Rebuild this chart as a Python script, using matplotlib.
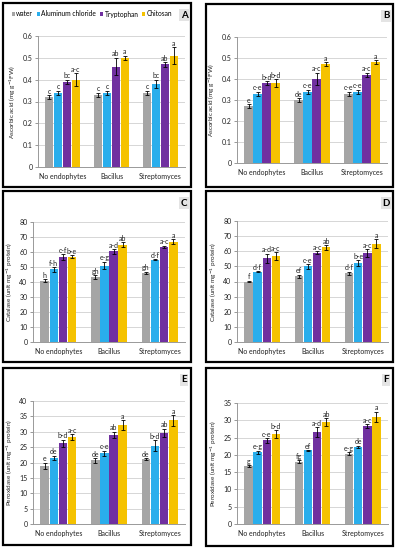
import matplotlib
matplotlib.use("Agg")
import matplotlib.pyplot as plt
from matplotlib.patches import Rectangle
import numpy as np

plt.rcParams['font.family'] = ['Lato', 'DejaVu Sans']

categories = ["No endophytes", "Bacillus", "Streptomyces"]
series = ["water", "Aluminum chloride", "Tryptophan", "Chitosan"]
colors = ["#A5A5A5", "#2AAEEC", "#7030A0", "#F5C200"]

# Panel A: ascorbic acid
A_vals = [[0.32, 0.33, 0.34], [0.34, 0.34, 0.38], [0.39, 0.46, 0.47], [0.40, 0.50, 0.51]]
A_err = [[0.008, 0.01, 0.01], [0.01, 0.01, 0.02], [0.01, 0.04, 0.01], [0.03, 0.01, 0.04]]
A_lab = [["c", "c", "c"], ["c", "c", "bc"], ["bc", "ab", "ab"], ["a-c", "a", "a"]]
# Panel B
B_vals = [[0.27, 0.30, 0.33], [0.33, 0.34, 0.34], [0.38, 0.40, 0.42], [0.38, 0.47, 0.48]]
B_err = [[0.01, 0.01, 0.01], [0.01, 0.01, 0.01], [0.01, 0.03, 0.01], [0.02, 0.01, 0.01]]
B_lab = [["e", "de", "c-e"], ["c-e", "c-e", "c-e"], ["b-d", "a-c", "a-c"], ["b-d", "a", "a"]]
# Panel C: catalase
C_vals = [[41, 43.5, 46], [48.5, 51, 55], [56.5, 60.5, 63.5], [57, 65, 67]]
C_err = [[1, 1.2, 0.8], [1.5, 2.5, 0.4], [2, 1.5, 0.8], [1, 1.5, 1.5]]
C_lab = [["h", "gh", "gh"], ["f-h", "e-g", "d-f"], ["c-f", "a-d", "a-c"], ["b-e", "ab", "a"]]
# Panel D
D_vals = [[40, 43.5, 45.5], [46.5, 50, 52], [55.5, 59, 59], [57, 62.5, 65]]
D_err = [[0.5, 1, 1], [0.5, 1.5, 2], [3, 1, 2.5], [2.5, 1.5, 3]]
D_lab = [["f", "ef", "d-f"], ["d-f", "c-e", "b-e"], ["a-d", "a-c", "a-c"], ["a-c", "ab", "a"]]
# Panel E: peroxidase
E_vals = [[19, 20.7, 21.2], [21.5, 23, 25.5], [26.2, 29, 29.7], [28.2, 32.2, 33.7]]
E_err = [[1, 0.7, 0.3], [0.7, 0.8, 1.7], [1.2, 1, 1.3], [1, 1.5, 1.7]]
E_lab = [["e", "de", "de"], ["de", "c-e", "b-d"], ["b-d", "ab", "ab"], ["a-c", "a", "a"]]
# Panel F
F_vals = [[16.8, 18, 20.3], [20.7, 21.3, 22.3], [24.2, 26.6, 28.3], [26, 29.5, 31]]
F_err = [[0.2, 0.4, 0.4], [0.5, 0.1, 0.4], [0.7, 1.4, 0.6], [1.2, 1.2, 1.5]]
F_lab = [["g", "fg", "e-g"], ["e-g", "ef", "de"], ["c-e", "a-d", "a-c"], ["b-d", "ab", "a"]]

asc_ticks = [0, 0.1, 0.2, 0.3, 0.4, 0.5, 0.6]
asc_ticklabels = ["0", "0.1", "0.2", "0.3", "0.4", "0.5", "0.6"]
cat_ticks = [0, 10, 20, 30, 40, 50, 60, 70, 80]
perE_ticks = [0, 5, 10, 15, 20, 25, 30, 35, 40]
perF_ticks = [0, 5, 10, 15, 20, 25, 30, 35]

asc_label = "Ascorbic acid (mg g$^{-1}$FW)"
cat_label = "Catalase (unit mg$^{-1}$ protein)"
per_label = "Peroxidase (unit mg$^{-1}$ protein)"

W, H = 399, 550
fig = plt.figure(figsize=(W / 100, H / 100), dpi=100)

def fx(x): return x / W
def fy(y): return 1 - y / H

panels = [
    ("A", A_vals, A_err, A_lab, asc_ticks, asc_ticklabels, asc_label, (38, 185, 36, 167), (3, 191, 3, 187)),
    ("B", B_vals, B_err, B_lab, asc_ticks, asc_ticklabels, asc_label, (237, 387, 37, 163), (206, 393, 4, 187)),
    ("C", C_vals, C_err, C_lab, cat_ticks, [str(t) for t in cat_ticks], cat_label, (33, 185, 222, 342), (3, 191, 191, 362)),
    ("D", D_vals, D_err, D_lab, cat_ticks, [str(t) for t in cat_ticks], cat_label, (237, 388, 221, 342), (206, 393, 191, 362)),
    ("E", E_vals, E_err, E_lab, perE_ticks, [str(t) for t in perE_ticks], per_label, (33, 185, 401, 524), (3, 191, 368, 545)),
    ("F", F_vals, F_err, F_lab, perF_ticks, [str(t) for t in perF_ticks], per_label, (237, 388, 403, 524), (206, 393, 368, 546)),
]

x = np.arange(len(categories))
bw = 0.18
for letter, vals, err, labs, ticks, tlabels, ylabel, ax_px, fr_px in panels:
    l, r, t, b = ax_px
    ax = fig.add_axes([fx(l), fy(b), (r - l) / W, (b - t) / H])
    ymax = ticks[-1]
    for i in range(4):
        xs = x + (i - 1.5) * bw
        ax.bar(xs, vals[i], width=bw * 0.92, color=colors[i], label=series[i], zorder=2)
        ax.errorbar(xs, vals[i], yerr=err[i], fmt="none", ecolor="black",
                    elinewidth=0.6, capsize=1.6, capthick=0.6, zorder=3)
        for j in range(3):
            ax.text(xs[j], vals[i][j] + err[i][j] + ymax * 0.003, labs[i][j],
                    ha="center", va="bottom", fontsize=5, color="#222222", zorder=4)
    ax.set_ylim(0, ymax)
    ax.set_xlim(-0.5, 2.5)
    ax.set_yticks(ticks)
    ax.set_yticklabels(tlabels)
    ax.set_xticks(x)
    ax.set_xticklabels(categories)
    ax.tick_params(axis="both", labelsize=5, length=2, width=0.6, color="#888888", pad=2,
                   labelcolor="#222222")
    ax.tick_params(axis="x", length=0, pad=4)
    ax.grid(axis="y", color="#D0D0D0", linewidth=0.6, zorder=0)
    ax.set_axisbelow(True)
    for s in ["top", "right"]:
        ax.spines[s].set_visible(False)
    for s in ["left", "bottom"]:
        ax.spines[s].set_color("#999999")
        ax.spines[s].set_linewidth(0.7)
    ax.set_ylabel(ylabel, fontsize=4.6, labelpad=3, color="#222222")
    fl, fr, ft, fb = fr_px
    fig.patches.append(Rectangle((fx(fl), fy(fb)), (fr - fl) / W, (fb - ft) / H,
                                 transform=fig.transFigure, fill=False,
                                 edgecolor="black", linewidth=1.6))
    fig.text(fx(fr - 7), fy(ft + 12), letter, fontsize=7, fontweight="bold",
             ha="center", va="center",
             bbox=dict(boxstyle="square,pad=0.15", facecolor="#E4E4E4", edgecolor="none"))
    if letter == "A":
        handles, hl = ax.get_legend_handles_labels()
        fig.legend(handles, hl, loc="center", bbox_to_anchor=(fx(92), fy(14)),
                   ncol=4, fontsize=4.8, frameon=False, handlelength=0.45, handleheight=0.45,
                   handletextpad=0.25, columnspacing=0.55, borderpad=0)

fig.savefig("out.png", dpi=100)
